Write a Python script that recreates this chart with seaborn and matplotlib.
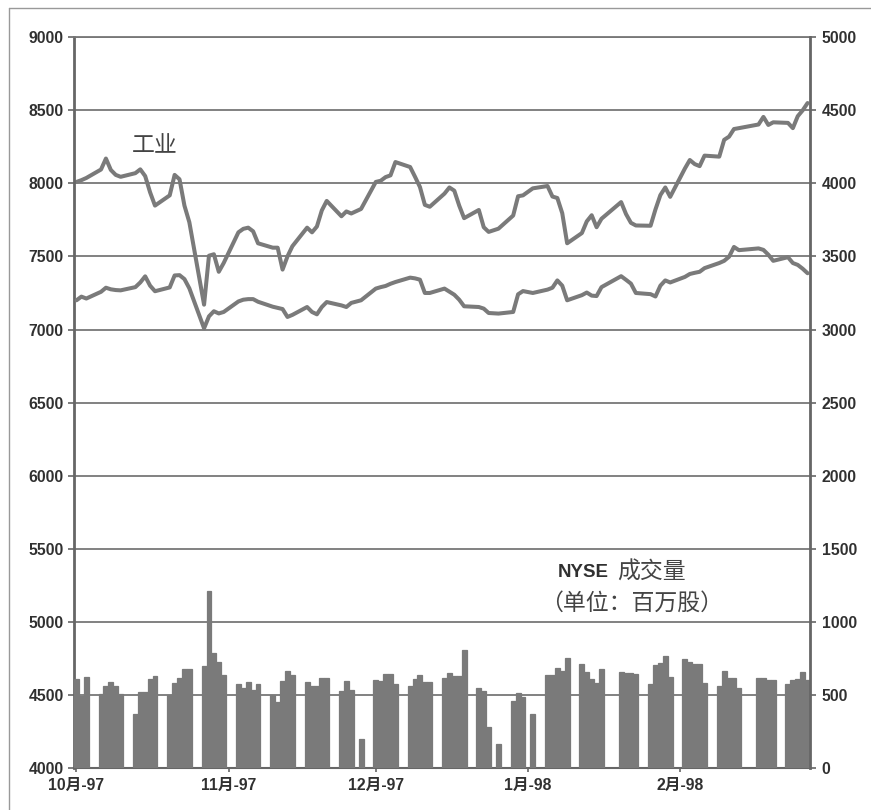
import pandas as pd
import numpy as np
import matplotlib
matplotlib.use('Agg')
import matplotlib.pyplot as plt
import seaborn as sns

# TRADING DAYS OCT-97 .. FEB-98 (NYSE HOLIDAYS REMOVED)
holidays = ['1997-11-27', '1997-12-25', '1998-01-01', '1998-01-19', '1998-02-16']
dates = pd.bdate_range('1997-10-01', '1998-02-27', freq='C', holidays=holidays)

# DOW INDUSTRIALS (left axis)
dow = [
    8010, 8022, 8037, 8095, 8170, 8092, 8058, 8045, 8070, 8096, 8050, 7939,
    7848, 7918, 8058, 8028, 7848, 7734, 7170, 7505, 7515, 7395, 7455,
    7665, 7689, 7697, 7672, 7590, 7560, 7560, 7410, 7500, 7570, 7697, 7665,
    7705, 7815, 7880, 7775, 7808, 7794, 7825,
    8010, 8018, 8043, 8055, 8146, 8112, 8045, 7975, 7853, 7840, 7930, 7972,
    7950, 7848, 7762, 7818, 7700, 7668, 7690, 7780, 7912, 7918,
    7966, 7982, 7910, 7900, 7796, 7590, 7660, 7740, 7782, 7700, 7758, 7872,
    7790, 7730, 7712, 7710, 7822, 7920, 7972, 7908,
    8102, 8160, 8132, 8118, 8190, 8183, 8298, 8320, 8372, 8378, 8403, 8455,
    8400, 8418, 8414, 8378, 8460, 8500, 8550,
]

# LOWER INDEX (right axis)
transport = [
    3200, 3225, 3212, 3258, 3286, 3275, 3270, 3268, 3290, 3322, 3364, 3300,
    3262, 3288, 3370, 3372, 3345, 3282, 3008, 3090, 3125, 3110, 3120,
    3192, 3204, 3208, 3208, 3190, 3156, 3148, 3140, 3086, 3100, 3154, 3120,
    3104, 3154, 3188, 3165, 3154, 3182, 3200,
    3280, 3290, 3298, 3313, 3325, 3355, 3350, 3341, 3250, 3250, 3280, 3259,
    3238, 3204, 3159, 3154, 3143, 3113, 3109, 3120, 3241, 3263,
    3250, 3273, 3286, 3336, 3300, 3200, 3235, 3253, 3232, 3229, 3290, 3365,
    3340, 3314, 3250, 3242, 3226, 3300, 3336, 3322,
    3360, 3380, 3388, 3395, 3420, 3455, 3470, 3498, 3565, 3543, 3555, 3545,
    3512, 3470, 3495, 3455, 3442, 3416, 3385,
]

# NYSE VOLUME, MILLION SHARES (right axis)
volume = [
    605, 490, 622, 508, 560, 587, 558, 508, 367, 517, 517, 605, 626,
    500, 580, 615, 678, 680, 694, 1212, 784, 723, 639,
    576, 549, 587, 535, 571, 497, 451, 594, 660, 639, 587, 558, 560,
    617, 617, 528, 592, 535, 195,
    603, 597, 640, 640, 572, 558, 610, 635, 590, 588, 617, 646, 630,
    628, 805, 544, 525, 277, 166, 455, 510, 483,
    372, 636, 636, 685, 665, 755, 708, 655, 610, 580, 678, 655, 648,
    652, 642, 571, 705, 720, 765, 621,
    746, 722, 712, 710, 578, 558, 662, 617, 615, 545, 617, 612, 600,
    600, 571, 599, 610, 655, 600,
]

month_ticks = pd.to_datetime(['1997-10-01', '1997-11-01', '1997-12-01',
                              '1998-01-01', '1998-02-01'])
month_labels = ['10月-97', '11月-97', '12月-97', '1月-98', '2月-98']

df = pd.DataFrame({'date': dates, 'dow': dow,
                   'transport': transport, 'volume': volume})

sns.set_theme(style='white')
plt.rcParams['font.family'] = ['Liberation Sans', 'Noto Sans CJK SC', 'DejaVu Sans']

grey = '#7a7a7a'
txt = '#303030'

fig, ax = plt.subplots(figsize=(8.71, 8.10), dpi=100)
fig.subplots_adjust(left=0.085, right=0.930, bottom=0.052, top=0.954)
ax2 = ax.twinx()

# volume bars
ax2.bar(df['date'], df['volume'], width=1.0, color=grey,
        edgecolor=grey, linewidth=0.9, zorder=2)

# index lines
sns.lineplot(data=df, x='date', y='dow', ax=ax, color=grey, linewidth=2.9)
sns.lineplot(data=df, x='date', y='transport', ax=ax2, color=grey, linewidth=2.9)

ax.set_xlim(dates[0] - pd.Timedelta(hours=12), dates[-1] + pd.Timedelta(hours=12))
ax.set_ylim(4000, 9000)
ax2.set_ylim(0, 5000)
ax.set_yticks(np.arange(4000, 9001, 500))
ax2.set_yticks(np.arange(0, 5001, 500))
ax.set_xticks(month_ticks)
ax.set_xticklabels(month_labels)
ax.set_xlabel('')
ax.set_ylabel('')
ax2.set_ylabel('')

ax.yaxis.grid(True, color='#777777', linewidth=1.3)
ax.xaxis.grid(False)
ax2.grid(False)

for s in ['left', 'right', 'top', 'bottom']:
    ax2.spines[s].set_visible(s == 'right')
ax2.spines['right'].set_color('#666666')
ax2.spines['right'].set_linewidth(2)
ax.spines['right'].set_visible(False)
ax.spines['left'].set_color('#666666')
ax.spines['left'].set_linewidth(2)
ax.spines['top'].set_color('#777777')
ax.spines['top'].set_linewidth(1.3)
ax.spines['bottom'].set_color('#666666')
ax.spines['bottom'].set_linewidth(1.5)

ax.tick_params(axis='y', left=True, direction='out', length=4.5, width=1.2,
               color='#666666', labelsize=11.3, labelcolor=txt, pad=3)
ax2.tick_params(axis='y', right=True, direction='out', length=4.5, width=1.2,
                color='#666666', labelsize=11.3, labelcolor=txt, pad=4)
ax.tick_params(axis='x', bottom=True, direction='out', length=3, width=1.2,
               color='#666666', labelsize=11.3, labelcolor=txt, pad=4)
for lab in ax.get_yticklabels() + ax2.get_yticklabels() + ax.get_xticklabels():
    lab.set_fontweight('bold')

# labels in the plot
ax.text(0.109, 0.851, '工业', transform=ax.transAxes, fontsize=16.5,
        color='#444444', ha='center', va='center', family=['Noto Sans CJK SC'])
ax.text(0.727, 0.268, 'NYSE', transform=ax.transAxes, fontsize=13.5,
        color=txt, ha='right', va='center', fontweight='bold')
ax.text(0.738, 0.268, '成交量', transform=ax.transAxes, fontsize=16.5,
        color='#444444', ha='left', va='center', family=['Noto Sans CJK SC'])
ax.text(0.757, 0.226, '（单位：百万股）', transform=ax.transAxes, fontsize=16.5,
        color='#444444', ha='center', va='center', family=['Noto Sans CJK SC'])

# outer frame
fig.add_artist(plt.Line2D([9 / 871, 9 / 871], [0, 1 - 8 / 810],
                          transform=fig.transFigure, color='#999999', lw=1))
fig.add_artist(plt.Line2D([9 / 871, 1], [1 - 8 / 810, 1 - 8 / 810],
                          transform=fig.transFigure, color='#999999', lw=1))

fig.savefig('out.png', dpi=100)
